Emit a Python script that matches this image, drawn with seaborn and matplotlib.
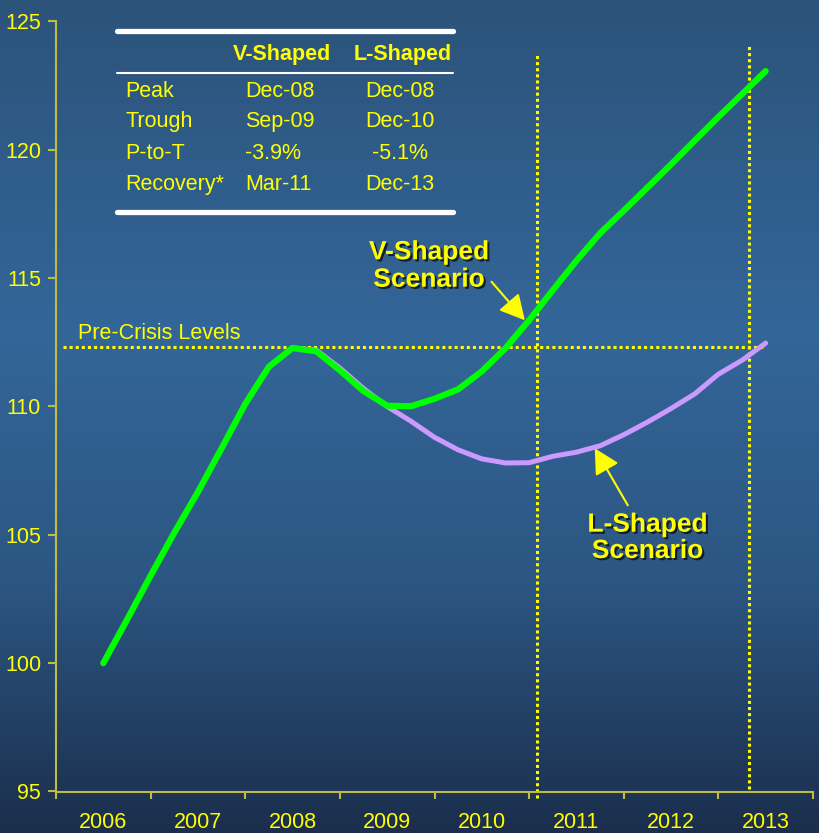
import numpy as np
import pandas as pd
import matplotlib
matplotlib.use("Agg")
import matplotlib.pyplot as plt
from matplotlib import patheffects
from matplotlib.lines import Line2D
import seaborn as sns

# ---- data -------------------------------------------------------------
years = ["2006", "2007", "2008", "2009", "2010", "2011", "2012", "2013"]
quarters = [str(p) for p in pd.period_range("2006Q3", periods=29, freq="Q")]

v_shaped = [100.0, 101.69, 103.41, 105.08, 106.67, 108.37, 110.1, 111.55,
            112.28, 112.15, 111.41, 110.6, 110.03, 110.01, 110.3, 110.67,
            111.37, 112.27, 113.36, 114.53, 115.68, 116.75, 117.63, 118.53,
            119.43, 120.36, 121.28, 122.17, 123.07]
l_shaped = [100.0, 101.69, 103.41, 105.08, 106.67, 108.37, 110.1, 111.55,
            112.28, 112.2, 111.5, 110.7, 110.0, 109.43, 108.8, 108.31,
            107.96, 107.8, 107.81, 108.06, 108.22, 108.47, 108.9, 109.39,
            109.92, 110.49, 111.26, 111.8, 112.47]
pre_crisis_level = 112.3

table_cols = ["V-Shaped", "L-Shaped"]
table_rows = ["Peak", "Trough", "P-to-T", "Recovery*"]
v_stats = ["Dec-08", "Sep-09", "-3.9%", "Mar-11"]
l_stats = ["Dec-08", "Dec-10", "-5.1%", "Dec-13"]

# ---- style ------------------------------------------------------------
sns.set_style("white")
plt.rcParams["font.family"] = ["Liberation Sans", "DejaVu Sans"]

YELLOW = "#ffff00"
AXIS = "#bdbd45"
GREEN = "#00ff00"
PURPLE = "#cc99ff"
FS = 15.5

W, H = 819, 833
fig = plt.figure(figsize=(W / 100, H / 100), dpi=100)


def fx(px):
    return px / W


def fy(py):
    return 1 - py / H


# vertical gradient background
bg = fig.add_axes([0, 0, 1, 1], zorder=0)
stops = np.array([0.0, 0.4, 0.7, 1.0])
cols = np.array([[44, 83, 122], [51, 102, 153], [44, 86, 130], [27, 46, 76]]) / 255
t = np.linspace(0, 1, 400)
grad = np.stack([np.interp(t, stops, cols[:, k]) for k in range(3)], axis=1)
bg.imshow(grad[:, None, :], aspect="auto", extent=[0, 1, 0, 1])
bg.axis("off")

ax = fig.add_axes([fx(56), fy(791.5), fx(813) - fx(56), fy(21.5) - fy(791.5)], zorder=1)
ax.set_facecolor("none")

# quarterly positions: each year occupies one unit on the x axis
xpos = 0.5 + 0.25 * np.arange(len(quarters))
df = pd.DataFrame({"quarter": quarters, "x": xpos, "V": v_shaped, "L": l_shaped})

sns.lineplot(data=df, x="x", y="L", ax=ax, color=PURPLE, lw=3.6,
             estimator=None, sort=False, solid_joinstyle="round", zorder=3)
sns.lineplot(data=df, x="x", y="V", ax=ax, color=GREEN, lw=4.5,
             estimator=None, sort=False, solid_joinstyle="round", zorder=4)

# reference lines
dot = dict(color=YELLOW, lw=2.2, ls=(0, (1, 1)), clip_on=False, zorder=2)
ax.plot([0.074, 7.49], [pre_crisis_level, pre_crisis_level], **dot)
ax.plot([5.085, 5.085], [94.75, 123.69], **dot)
ax.plot([7.324, 7.324], [95.1, 124.08], **dot)
ax.text(0.23, pre_crisis_level + 0.33, "Pre-Crisis Levels", color=YELLOW,
        fontsize=FS, ha="left", va="baseline")

# axes
ax.set_xlim(0, 8)
ax.set_ylim(95, 125)
ax.set_xlabel("")
ax.set_ylabel("")
for s in ["top", "right"]:
    ax.spines[s].set_visible(False)
for s in ["left", "bottom"]:
    ax.spines[s].set_color(AXIS)
    ax.spines[s].set_linewidth(1.5)

ax.set_yticks(range(95, 126, 5))
ax.tick_params(axis="y", direction="out", length=5.8, width=1.5, color=AXIS,
               labelcolor=YELLOW, labelsize=FS, pad=5, left=True)
ax.set_xticks(range(0, 9))
ax.set_xticklabels([])
ax.set_xticks(np.arange(0.5, 8, 1), minor=True)
ax.set_xticklabels(years, minor=True)
ax.tick_params(axis="x", which="major", direction="out", length=5, width=1.5,
               color=AXIS, bottom=True)
ax.tick_params(axis="x", which="minor", length=0, labelcolor=YELLOW,
               labelsize=FS, pad=15)

# scenario call-outs
shadow = [patheffects.withSimplePatchShadow(offset=(1.5, -1.5),
                                            shadow_rgbFace="#101820", alpha=0.9)]
for (cx, base1, base2, name) in [(429, 259.3, 286.7, "V-Shaped"),
                                 (647.5, 531.7, 558.0, "L-Shaped")]:
    fig.text(fx(cx), fy(base1), name, color=YELLOW, fontsize=19,
             fontweight="bold", ha="center", va="baseline", path_effects=shadow,
             zorder=5)
    fig.text(fx(cx), fy(base2), "Scenario", color=YELLOW, fontsize=19,
             fontweight="bold", ha="center", va="baseline", path_effects=shadow,
             zorder=5)

arrow = dict(arrowstyle="-|>,head_length=0.85,head_width=0.45", color=YELLOW,
             lw=1.5, mutation_scale=18, shrinkA=0, shrinkB=0)
ax.annotate("", xy=(4.955, 113.36), xytext=(4.603, 114.86), arrowprops=arrow,
            zorder=5)
ax.annotate("", xy=(5.694, 108.37), xytext=(6.043, 106.15), arrowprops=arrow,
            zorder=5)

# summary table
fig.add_artist(Line2D([fx(117), fx(453)], [fy(31), fy(31)], color="white", lw=3.8))
fig.add_artist(Line2D([fx(117), fx(453)], [fy(72.7), fy(72.7)], color="white", lw=1.5))
fig.add_artist(Line2D([fx(117), fx(453)], [fy(212), fy(212)], color="white", lw=3.8))

for cx, name in zip([281.7, 403], table_cols):
    fig.text(fx(cx), fy(60), name, color=YELLOW, fontsize=FS, fontweight="bold",
             ha="center", va="baseline")

row_base = [96.7, 127.3, 159, 190]
for base, label, v, l in zip(row_base, table_rows, v_stats, l_stats):
    fig.text(fx(125), fy(base), label, color=YELLOW, fontsize=FS,
             ha="left", va="baseline")
    fig.text(fx(245), fy(base), v, color=YELLOW, fontsize=FS,
             ha="left", va="baseline")
    fig.text(fx(400), fy(base), l, color=YELLOW, fontsize=FS,
             ha="center", va="baseline")

fig.savefig("out.png", dpi=100)
